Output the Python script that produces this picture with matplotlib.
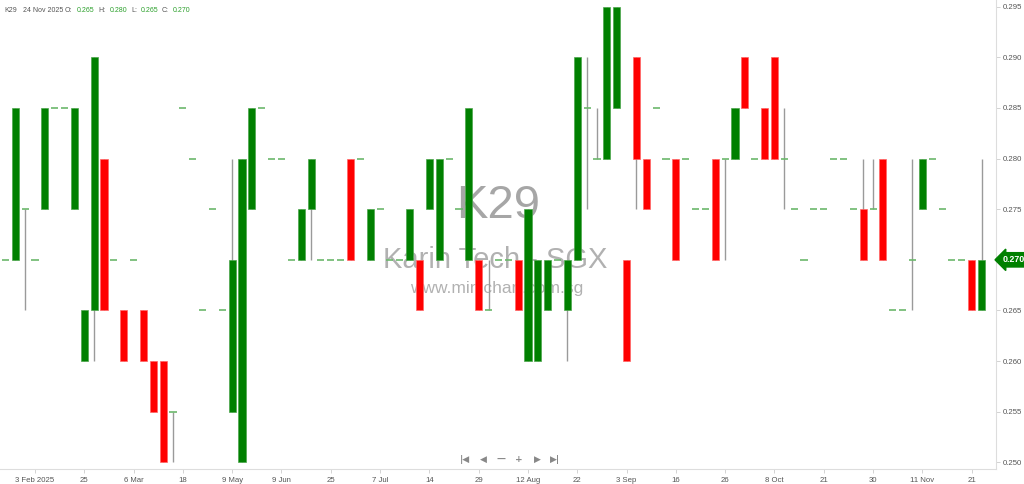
import matplotlib.pyplot as plt
import numpy as np

# weekly-ish OHLC for K29 (one entry per traded session)
opens = [0.270, 0.270, 0.275, 0.270, 0.275, 0.285, 0.285, 0.275, 0.260, 0.265,
         0.280, 0.270, 0.265, 0.270, 0.265, 0.260, 0.260, 0.255, 0.285, 0.280,
         0.265, 0.275, 0.265, 0.255, 0.250, 0.275, 0.285, 0.280, 0.280, 0.270,
         0.270, 0.275, 0.270, 0.270, 0.270, 0.280, 0.280, 0.270, 0.275, 0.270,
         0.270, 0.270, 0.270, 0.275, 0.270, 0.280, 0.275, 0.270, 0.270, 0.265,
         0.270, 0.270, 0.270, 0.260, 0.260, 0.265, 0.270, 0.265, 0.270, 0.285,
         0.280, 0.280, 0.285, 0.270, 0.290, 0.280, 0.285, 0.280, 0.280, 0.280,
         0.275, 0.275, 0.280, 0.280, 0.280, 0.290, 0.280, 0.285, 0.290, 0.280,
         0.275, 0.270, 0.275, 0.275, 0.280, 0.280, 0.275, 0.275, 0.275, 0.280,
         0.265, 0.265, 0.270, 0.275, 0.280, 0.275, 0.270, 0.270, 0.270, 0.265]
highs = [0.270, 0.285, 0.275, 0.270, 0.285, 0.285, 0.285, 0.285, 0.265, 0.290,
         0.280, 0.270, 0.265, 0.270, 0.265, 0.260, 0.260, 0.255, 0.285, 0.280,
         0.265, 0.275, 0.265, 0.280, 0.280, 0.285, 0.285, 0.280, 0.280, 0.270,
         0.275, 0.280, 0.270, 0.270, 0.270, 0.280, 0.280, 0.275, 0.275, 0.270,
         0.270, 0.275, 0.270, 0.280, 0.280, 0.280, 0.275, 0.285, 0.270, 0.270,
         0.270, 0.270, 0.270, 0.275, 0.270, 0.270, 0.270, 0.270, 0.290, 0.290,
         0.285, 0.295, 0.295, 0.270, 0.290, 0.280, 0.285, 0.280, 0.280, 0.280,
         0.275, 0.275, 0.280, 0.280, 0.285, 0.290, 0.280, 0.285, 0.290, 0.285,
         0.275, 0.270, 0.275, 0.275, 0.280, 0.280, 0.275, 0.280, 0.280, 0.280,
         0.265, 0.265, 0.280, 0.280, 0.280, 0.275, 0.270, 0.270, 0.270, 0.280]
lows = [0.270, 0.270, 0.265, 0.270, 0.275, 0.285, 0.285, 0.275, 0.260, 0.260,
        0.265, 0.270, 0.260, 0.270, 0.260, 0.255, 0.250, 0.250, 0.285, 0.280,
        0.265, 0.275, 0.265, 0.255, 0.250, 0.275, 0.285, 0.280, 0.280, 0.270,
        0.270, 0.270, 0.270, 0.270, 0.270, 0.270, 0.280, 0.270, 0.275, 0.270,
        0.270, 0.270, 0.265, 0.275, 0.270, 0.280, 0.275, 0.270, 0.265, 0.265,
        0.270, 0.270, 0.265, 0.260, 0.260, 0.265, 0.270, 0.260, 0.270, 0.275,
        0.280, 0.280, 0.285, 0.260, 0.275, 0.275, 0.285, 0.280, 0.270, 0.280,
        0.275, 0.275, 0.270, 0.270, 0.280, 0.285, 0.280, 0.280, 0.280, 0.275,
        0.275, 0.270, 0.275, 0.275, 0.280, 0.280, 0.275, 0.270, 0.275, 0.270,
        0.265, 0.265, 0.265, 0.275, 0.280, 0.275, 0.270, 0.270, 0.265, 0.265]
closes = [0.270, 0.285, 0.275, 0.270, 0.285, 0.285, 0.285, 0.285, 0.265, 0.290,
          0.265, 0.270, 0.260, 0.270, 0.260, 0.255, 0.250, 0.255, 0.285, 0.280,
          0.265, 0.275, 0.265, 0.270, 0.280, 0.285, 0.285, 0.280, 0.280, 0.270,
          0.275, 0.280, 0.270, 0.270, 0.270, 0.270, 0.280, 0.275, 0.275, 0.270,
          0.270, 0.275, 0.265, 0.280, 0.280, 0.280, 0.275, 0.285, 0.265, 0.265,
          0.270, 0.270, 0.265, 0.275, 0.270, 0.270, 0.270, 0.270, 0.290, 0.285,
          0.280, 0.295, 0.295, 0.260, 0.280, 0.275, 0.285, 0.280, 0.270, 0.280,
          0.275, 0.275, 0.270, 0.280, 0.285, 0.285, 0.280, 0.280, 0.280, 0.280,
          0.275, 0.270, 0.275, 0.275, 0.280, 0.280, 0.275, 0.270, 0.275, 0.270,
          0.265, 0.265, 0.270, 0.280, 0.280, 0.275, 0.270, 0.270, 0.265, 0.270]

tick_pos = list(range(3, 100, 5))
tick_labels = ["3 Feb 2025", "25", "6 Mar", "18", "9 May", "9 Jun", "25", "7 Jul",
               "14", "29", "12 Aug", "22", "3 Sep", "16", "26", "8 Oct", "21",
               "30", "11 Nov", "21"]
price_ticks = [0.250, 0.255, 0.260, 0.265, 0.270, 0.275, 0.280, 0.285, 0.290, 0.295]

GREEN = "#008000"
RED = "#ff0000"
DOJI = "#6cb86c"
WICK = "#9a9a9a"
TXT = "#555555"
VAL = "#2ca02c"

plt.rcParams['font.family'] = ["Liberation Sans", "DejaVu Sans"]

fig = plt.figure(figsize=(10.24, 4.84), dpi=100)
ax = fig.add_axes([0.0, 15 / 484, 996 / 1024, 469 / 484])

o = np.array(opens)
h = np.array(highs)
l = np.array(lows)
c = np.array(closes)
x = np.arange(len(o))
w = 0.72

# wicks
ax.vlines(x, l, h, color=WICK, lw=1.0, zorder=2)

# bodies
up = c > o
dn = c < o
flat = c == o
ax.bar(x[up], (c - o)[up], bottom=o[up], width=w, color=GREEN,
       edgecolor="#4ca64c", lw=0.5, zorder=3)
ax.bar(x[dn], (o - c)[dn], bottom=c[dn], width=w, color=RED,
       edgecolor="#ff6666", lw=0.5, zorder=3)
ax.hlines(c[flat], x[flat] - w / 2, x[flat] + w / 2, color=DOJI, lw=1.2, zorder=3)

ax.set_xlim(-0.55, 100.47)
ax.set_ylim(0.24934, 0.29566)

# watermark
ax.text(0.5, 0.56, "K29", transform=ax.transAxes, ha="center", va="center",
        fontsize=34, color="#909090", alpha=0.8, zorder=1)
ax.text(0.497, 0.445, "Karin Tech - SGX", transform=ax.transAxes, ha="center",
        va="center", fontsize=21, color="#909090", alpha=0.7, zorder=1)
ax.text(0.4985, 0.384, "www.minichart.com.sg", transform=ax.transAxes,
        ha="center", va="center", fontsize=12.5, color="#909090", alpha=0.7, zorder=1)

# axes styling
for s in ["top", "left"]:
    ax.spines[s].set_visible(False)
ax.spines["bottom"].set_color("#dddddd")
ax.spines["right"].set_color("#dddddd")
ax.yaxis.tick_right()
ax.set_yticks(price_ticks)
# the last-price badge sits over its own tick label
ax.set_yticklabels(["" if abs(v - closes[-1]) < 1e-9 else f"{v:.3f}" for v in price_ticks])
ax.set_xticks(tick_pos)
ax.set_xticklabels(tick_labels)
ax.tick_params(axis="both", labelsize=5.6, colors="#cccccc", labelcolor=TXT,
               length=3, width=0.6, pad=2)
ax.tick_params(axis="x", pad=3)

# last price badge
ax.annotate(f"{closes[-1]:.3f}", xy=(1.0, closes[-1]), xycoords=("axes fraction", "data"),
            xytext=(5, 0), textcoords="offset points", ha="left", va="center",
            fontsize=6.4, color="white", fontweight="bold", annotation_clip=False,
            bbox=dict(boxstyle="larrow,pad=0.3", fc=GREEN, ec=GREEN))

# header
head = [("K29", TXT), ("24 Nov 2025", TXT), ("O:", TXT), (f"{opens[-1]:.3f}", VAL),
        ("H:", TXT), (f"{highs[-1]:.3f}", VAL), ("L:", TXT),
        (f"{lows[-1]:.3f}", VAL), ("C:", TXT), (f"{closes[-1]:.3f}", VAL)]
head_x = [4, 23, 65, 77, 98, 110, 131, 141, 162, 173]
for (t, col), px in zip(head, head_x):
    fig.text(px / 1024, 1 - 11 / 484, t, ha="left", va="center", fontsize=5.0, color=col)

# navigation buttons
nav = ["|◀", "◀", "—", "+", "▶", "▶|"]
nav_x = [465, 483, 501, 519, 537, 555]
for t, px in zip(nav, nav_x):
    fig.text(px / 1024, 1 - 459 / 484, t, ha="center", va="center", fontsize=6.5,
             color="#888888", family=["DejaVu Sans"], fontweight="bold")

fig.savefig("out.png", dpi=100)
